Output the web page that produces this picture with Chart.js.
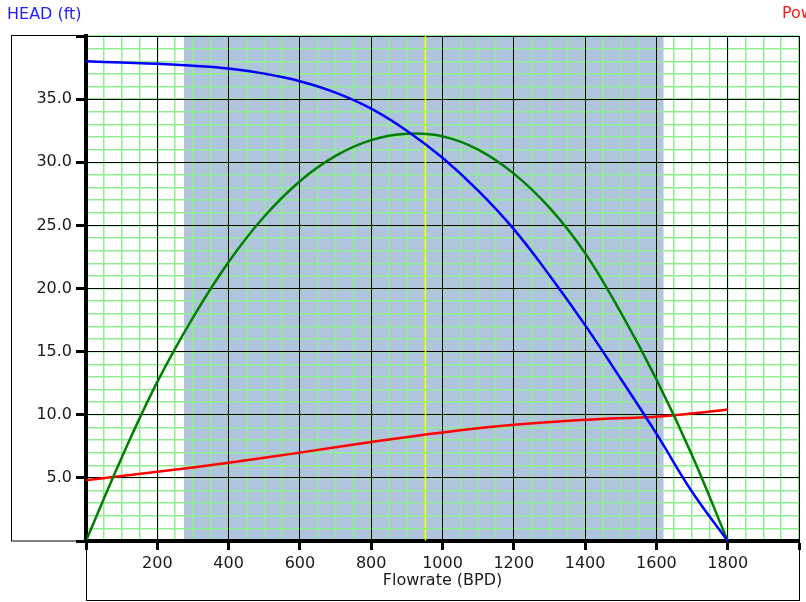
<!DOCTYPE html>
<html>
<head>
<meta charset="utf-8">
<script src="https://cdn.jsdelivr.net/npm/chart.js@4/dist/chart.umd.min.js"></script>
<style>
html,body{margin:0;padding:0;background:#fff;}
canvas{display:block;}
</style>
</head>
<body>
<canvas id="c" width="806" height="602"></canvas>
<script>
// ---- data ----
const flowrate   = [0, 100, 200, 300, 400, 500, 600, 700, 800, 900, 1000, 1100, 1200, 1300, 1400, 1500, 1600, 1700, 1800];
const head       = [38.0, 37.9, 37.8, 37.65, 37.43, 37.02, 36.42, 35.52, 34.25, 32.5, 30.35, 27.75, 24.7, 21.05, 17.1, 12.85, 8.5, 3.9, 0];
const efficiency = [0, 6.6, 12.6, 17.7, 22.1, 25.7, 28.5, 30.5, 31.75, 32.25, 32.05, 31.0, 29.1, 26.4, 22.8, 18.1, 12.8, 6.8, 0];
const powerFlow  = [0, 200, 400, 600, 800, 1000, 1200, 1400, 1600, 1700, 1800];
const power      = [4.82, 5.48, 6.2, 7.0, 7.84, 8.6, 9.2, 9.6, 9.85, 10.1, 10.42];
const operatingRange = [275, 1620];   // shaded recommended range (BPD)
const bepFlow = 950;                  // best efficiency point marker (BPD)
const xRange = [0, 2000];
const yRange = [0, 40];
const xMajorStep = 200, xMinorStep = 50;
const yMajorStep = 5,   yMinorStep = 1;
const xTitle = 'Flowrate (BPD)';
const headTitle = 'HEAD (ft)';
const powerTitle = 'Power';

const FONT = '"DejaVu Sans", Verdana, sans-serif';
const pts = (xs, ys) => xs.map((x, i) => ({x: x, y: ys[i]}));

const decor = {
  id: 'decor',
  beforeDraw(chart) {
    const {ctx, chartArea: a, scales: {x}} = chart;
    ctx.save();
    ctx.fillStyle = '#fff';
    ctx.fillRect(0, 0, chart.width, chart.height);
    const x0 = x.getPixelForValue(operatingRange[0]);
    const x1 = x.getPixelForValue(operatingRange[1]);
    ctx.fillStyle = '#B0C4DE';
    ctx.fillRect(x0, a.top, x1 - x0, a.bottom - a.top);
    ctx.restore();
  },
  beforeDatasetsDraw(chart) {
    const {ctx, chartArea: a, scales: {x}} = chart;
    const px = Math.round(x.getPixelForValue(bepFlow)) + 0.5;
    ctx.save();
    ctx.strokeStyle = '#FFFF00';
    ctx.lineWidth = 1.5;
    ctx.beginPath();
    ctx.moveTo(px, a.top);
    ctx.lineTo(px, a.bottom);
    ctx.stroke();
    ctx.restore();
  },
  afterDraw(chart) {
    const {ctx, chartArea: a} = chart;
    ctx.save();
    ctx.strokeStyle = '#000';
    ctx.lineWidth = 1;
    // left axis frame
    ctx.strokeRect(11.5, a.top - 0.5, a.left - 11.5, a.bottom - a.top + 0.5);
    // bottom axis frame
    ctx.strokeRect(a.left + 0.5, a.bottom, a.right - a.left, chart.height - 1.5 - a.bottom);
    ctx.font = '16px ' + FONT;
    ctx.textBaseline = 'middle';
    ctx.textAlign = 'left';
    ctx.fillStyle = '#1f1fff';
    ctx.fillText(headTitle, 7, 15);
    ctx.fillStyle = '#ff1a1a';
    ctx.fillText(powerTitle, 782, 14);
    ctx.restore();
  }
};

new Chart(document.getElementById('c'), {
  type: 'line',
  data: {
    datasets: [
      {label: 'Head', data: pts(flowrate, head), borderColor: '#0000FF', borderWidth: 2.5, xAxisID: 'x', yAxisID: 'y'},
      {label: 'Efficiency', data: pts(flowrate, efficiency), borderColor: '#008000', borderWidth: 2.5, xAxisID: 'x', yAxisID: 'y'},
      {label: 'Power', data: pts(powerFlow, power), borderColor: '#FF0000', borderWidth: 2.5, xAxisID: 'x', yAxisID: 'y'}
    ]
  },
  options: {
    responsive: false,
    animation: false,
    events: [],
    elements: {
      point: {radius: 0},
      line: {tension: 0.4, fill: false}
    },
    layout: {padding: {left: 0, right: 7, top: 36, bottom: 0}},
    plugins: {legend: {display: false}, tooltip: {enabled: false}, title: {display: false}},
    scales: {
      xMinor: {
        type: 'linear', position: 'bottom', min: xRange[0], max: xRange[1],
        ticks: {display: false, stepSize: xMinorStep},
        grid: {color: '#90EE90', lineWidth: 1.5, drawTicks: false, z: -2},
        border: {display: false},
        afterFit(s) { s.height = 0; }
      },
      yMinor: {
        type: 'linear', position: 'left', min: yRange[0], max: yRange[1],
        ticks: {display: false, stepSize: yMinorStep},
        grid: {color: '#90EE90', lineWidth: 1.5, drawTicks: false, z: -2},
        border: {display: false},
        afterFit(s) { s.width = 0; }
      },
      x: {
        type: 'linear', position: 'bottom', min: xRange[0], max: xRange[1],
        ticks: {
          stepSize: xMajorStep, autoSkip: false, maxRotation: 0, padding: 4,
          color: '#1a1a1a', font: {family: FONT, size: 16},
          callback: v => (v === xRange[0] || v === xRange[1]) ? '' : String(v)
        },
        grid: {color: '#000', lineWidth: 1, tickLength: 9, tickWidth: 3, tickColor: '#000', z: -1},
        border: {color: '#000', width: 4},
        title: {display: true, text: xTitle, color: '#1a1a1a', font: {family: FONT, size: 16}, padding: {top: 0, bottom: 12}},
        afterFit(s) { s.height = 61; }
      },
      y: {
        type: 'linear', position: 'left', min: yRange[0], max: yRange[1],
        ticks: {
          stepSize: yMajorStep, autoSkip: false, padding: 4,
          color: '#1a1a1a', font: {family: FONT, size: 16},
          callback: v => (v === yRange[0] || v === yRange[1]) ? '' : v.toFixed(1)
        },
        grid: {color: '#000', lineWidth: 1, tickLength: 10, tickWidth: 3, tickColor: '#000', z: -1},
        border: {color: '#000', width: 4},
        afterFit(s) { s.width = 86; }
      }
    }
  },
  plugins: [decor]
});
</script>
</body>
</html>
